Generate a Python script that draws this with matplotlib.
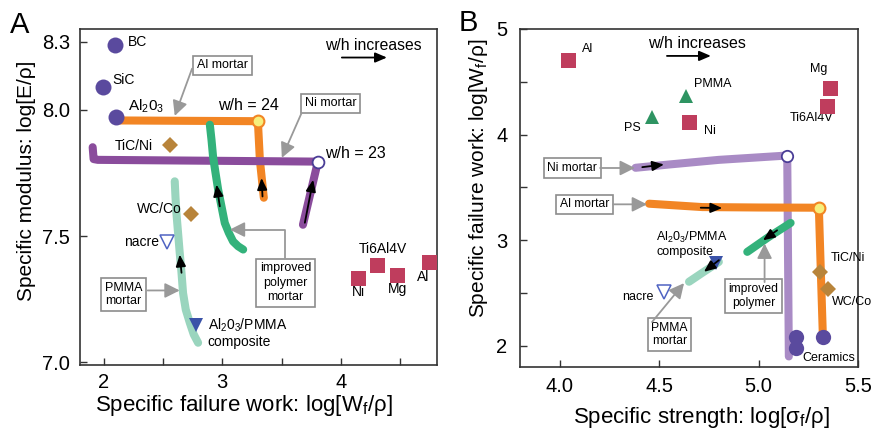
import matplotlib
matplotlib.use("Agg")
import matplotlib.pyplot as plt
from matplotlib.ticker import FixedLocator

plt.rcParams['font.family'] = ['Liberation Sans', 'DejaVu Sans']
plt.rcParams['mathtext.fontset'] = 'custom'
plt.rcParams['mathtext.rm'] = 'Liberation Sans'
plt.rcParams['mathtext.it'] = 'Liberation Sans'
plt.rcParams['mathtext.default'] = 'regular'

# ---------------- Panel A data ----------------
a_ceramic_names = ['BC', 'SiC', 'Al$_2$0$_3$']
a_ceramic_x = [2.093, 1.99, 2.10]
a_ceramic_y = [8.257, 8.092, 7.971]
a_cermet_names = ['TiC/Ni', 'WC/Co']
a_cermet_x = [2.563, 2.734]
a_cermet_y = [7.859, 7.588]
a_metal_names = ['Ni', 'Ti6Al4V', 'Mg', 'Al']
a_metal_x = [4.146, 4.307, 4.475, 4.745]
a_metal_y = [7.335, 7.387, 7.348, 7.398]
a_nacre = (2.534, 7.476)
a_composite = (2.782, 7.150)
a_al_mortar_x = [2.10, 3.30, 3.317, 3.35]
a_al_mortar_y = [7.958, 7.955, 7.80, 7.652]
a_ni_mortar_x = [1.907, 1.915, 1.95, 3.806, 3.68]
a_ni_mortar_y = [7.852, 7.805, 7.802, 7.795, 7.545]
a_poly_x = [2.895, 2.909, 2.922, 2.943, 2.965, 2.993, 3.021, 3.055, 3.091, 3.133, 3.176]
a_poly_y = [7.941, 7.881, 7.815, 7.750, 7.684, 7.618, 7.552, 7.513, 7.479, 7.460, 7.447]
a_pmma_x = [2.599, 2.605, 2.613, 2.627, 2.641, 2.656, 2.669, 2.692, 2.726, 2.759, 2.796]
a_pmma_y = [7.717, 7.657, 7.592, 7.513, 7.434, 7.355, 7.275, 7.209, 7.157, 7.111, 7.078]
a_xticks = [2, 3, 4]
a_xminor = [2.5, 3.5, 4.5]
a_yticks = [7.0, 7.5, 8.0, 8.27]
a_yticklabels = ['7.0', '7.5', '8.0', '8.3']

# ---------------- Panel B data ----------------
b_metal_names = ['Al', 'Ni', 'Mg', 'Ti6Al4V']
b_metal_x = [4.043, 4.65, 5.357, 5.345]
b_metal_y = [4.705, 4.116, 4.44, 4.274]
b_polymer_names = ['PS', 'PMMA']
b_polymer_x = [4.462, 4.636]
b_polymer_y = [4.163, 4.368]
b_cermet_names = ['TiC/Ni', 'WC/Co']
b_cermet_x = [5.311, 5.35]
b_cermet_y = [2.701, 2.535]
b_ceramic_x = [5.186, 5.186, 5.323]
b_ceramic_y = [2.088, 1.978, 2.088]
b_nacre = (4.524, 2.512)
b_composite = (4.787, 2.780)
b_ni_mortar_x = [4.381, 4.549, 4.80, 5.144, 5.148, 5.152]
b_ni_mortar_y = [3.686, 3.717, 3.761, 3.802, 2.85, 1.90]
b_al_mortar_x = [4.449, 4.717, 5.0, 5.303, 5.313, 5.323]
b_al_mortar_y = [3.346, 3.314, 3.310, 3.308, 2.70, 2.104]
b_poly_x = [4.943, 5.05, 5.161]
b_poly_y = [2.890, 3.03, 3.164]
b_pmma_x = [4.65, 4.717, 4.80]
b_pmma_y = [2.607, 2.692, 2.795]
b_xticks = [4.0, 4.5, 5.0, 5.5]
b_yticks = [2, 3, 4, 5]
b_yminor = [2.5, 3.5, 4.5]

# ---------------- colours ----------------
C_CERAMIC = '#5a4a9e'
C_CERMET = '#b8843a'
C_METAL = '#bf3d5d'
C_POLY_TRI = '#2e9462'
C_COMP = '#3a52a8'
C_NACRE = '#4f63c2'
C_ORANGE = '#f28524'
C_PURPLE = '#8a4c9c'
C_LAV = '#a98bc5'
C_GREEN = '#33b27b'
C_TEAL = '#9ad5be'
C_YELLOW = '#f6ef7c'
C_GRAY = '#999999'

fig = plt.figure(figsize=(8.75, 4.3), dpi=100)
axA = fig.add_axes([0.0914, 0.1512, 0.4080, 0.7814])
axB = fig.add_axes([0.5943, 0.1465, 0.3863, 0.7861])

LW = 5.8
box_kw = dict(boxstyle='square,pad=0.3', fc='white', ec='#8c8c8c', lw=1.2)
gray_arrow = dict(arrowstyle='-|>,head_length=0.9,head_width=0.45', color=C_GRAY,
                  lw=1.3, shrinkA=0, shrinkB=0, mutation_scale=10)
black_arrow = dict(arrowstyle='-|>,head_length=0.7,head_width=0.3', color='black',
                   lw=1.3, shrinkA=0, shrinkB=0, mutation_scale=10)


def style_axis(ax):
    for s in ax.spines.values():
        s.set_color('#333333')
        s.set_linewidth(1.2)
    ax.tick_params(which='both', direction='in', length=5, width=1.0, color='#333333',
                   labelsize=14.5)


# ================= Panel A =================
ax = axA
ax.plot(a_al_mortar_x, a_al_mortar_y, color=C_ORANGE, lw=LW, solid_capstyle='round',
        solid_joinstyle='round', zorder=2)
ax.plot(a_ni_mortar_x, a_ni_mortar_y, color=C_PURPLE, lw=LW, solid_capstyle='round',
        solid_joinstyle='round', zorder=3)
ax.plot(a_pmma_x, a_pmma_y, color=C_TEAL, lw=LW, solid_capstyle='round',
        solid_joinstyle='round', zorder=2)
ax.plot(a_poly_x, a_poly_y, color=C_GREEN, lw=LW, solid_capstyle='round',
        solid_joinstyle='round', zorder=4)
ax.plot([a_al_mortar_x[1]], [a_al_mortar_y[1]], 'o', ms=8.5, mfc=C_YELLOW, mec=C_ORANGE,
        mew=1.5, zorder=6)
ax.plot([a_ni_mortar_x[3]], [a_ni_mortar_y[3]], 'o', ms=8.5, mfc='white', mec='#4a3d96',
        mew=1.3, zorder=6)

ax.plot(a_ceramic_x, a_ceramic_y, 'o', ms=11.5, color=C_CERAMIC, mew=0, zorder=5)
ax.plot(a_cermet_x, a_cermet_y, 'D', ms=8.3, color=C_CERMET, mew=0, zorder=5)
ax.plot(a_metal_x, a_metal_y, 's', ms=10.8, color=C_METAL, mew=0, zorder=5)
ax.plot([a_nacre[0]], [a_nacre[1]], 'v', ms=9.5, mfc='white', mec=C_NACRE, mew=1.1, zorder=5)
ax.plot([a_composite[0]], [a_composite[1]], 'v', ms=9.5, color=C_COMP, mew=0, zorder=5)

fsA = 10
ax.text(2.203, 8.269, a_ceramic_names[0], fontsize=fsA, va='center')
ax.text(2.076, 8.119, a_ceramic_names[1], fontsize=fsA, va='center')
ax.text(2.203, 8.012, a_ceramic_names[2], fontsize=fsA + 1, va='center')
ax.text(2.414, 7.858, a_cermet_names[0], fontsize=fsA, va='center', ha='right')
ax.text(2.658, 7.609, a_cermet_names[1], fontsize=fsA, va='center', ha='right')
ax.text(2.464, 7.478, 'nacre', fontsize=fsA, va='center', ha='right')
ax.text(2.878, 7.117, 'Al$_2$0$_3$/PMMA\ncomposite', fontsize=fsA, va='center', ha='left',
        linespacing=1.15)
ax.text(4.152, 7.277, a_metal_names[0], fontsize=fsA, va='center', ha='center')
ax.text(4.354, 7.451, a_metal_names[1], fontsize=fsA, va='center', ha='center')
ax.text(4.473, 7.292, a_metal_names[2], fontsize=fsA, va='center', ha='center')
ax.text(4.692, 7.340, a_metal_names[3], fontsize=fsA, va='center', ha='center')

ax.text(3.865, 8.253, 'w/h increases', fontsize=11.3, va='center')
ax.annotate('', xy=(4.388, 8.207), xytext=(4.008, 8.207), arrowprops=black_arrow)
ax.text(2.962, 8.016, 'w/h = 24', fontsize=11.5, va='center')
ax.text(3.865, 7.826, 'w/h = 23', fontsize=11.5, va='center')

# black arrows along curves
ax.annotate('', xy=(3.331, 7.730), xytext=(3.339, 7.657), arrowprops=black_arrow, zorder=7)
ax.annotate('', xy=(3.766, 7.723), xytext=(3.696, 7.553), arrowprops=black_arrow, zorder=7)
ax.annotate('', xy=(2.951, 7.704), xytext=(2.979, 7.618), arrowprops=black_arrow, zorder=7)
ax.annotate('', xy=(2.641, 7.427), xytext=(2.656, 7.355), arrowprops=black_arrow, zorder=7)

# boxed labels with gray arrows
fsBox = 9
ax.text(3.0, 8.176, 'Al mortar', fontsize=fsBox, ha='center', va='center', bbox=box_kw, zorder=8)
ax.annotate('', xy=(2.599, 7.976), xytext=(2.745, 8.163), arrowprops=gray_arrow, zorder=8)
ax.text(3.911, 8.026, 'Ni mortar', fontsize=fsBox, ha='center', va='center', bbox=box_kw, zorder=8)
ax.annotate('', xy=(3.502, 7.810), xytext=(3.668, 7.987), arrowprops=gray_arrow, zorder=8)
ax.text(2.169, 7.269, 'PMMA\nmortar', fontsize=fsBox, ha='center', va='center', bbox=box_kw,
        linespacing=1.2, zorder=8)
ax.annotate('', xy=(2.641, 7.285), xytext=(2.371, 7.285), arrowprops=gray_arrow, zorder=8)
ax.text(3.532, 7.316, 'improved\npolymer\nmortar', fontsize=fsBox, ha='center', va='center',
        bbox=box_kw, linespacing=1.25, zorder=8)
arr_elbow = dict(gray_arrow)
arr_elbow['connectionstyle'] = 'angle,angleA=90,angleB=0,rad=0'
ax.annotate('', xy=(3.063, 7.526), xytext=(3.527, 7.415), arrowprops=arr_elbow, zorder=8)

ax.set_xlim(1.80, 4.81)
ax.set_ylim(6.99, 8.32)
ax.xaxis.set_major_locator(FixedLocator(a_xticks))
ax.xaxis.set_minor_locator(FixedLocator(a_xminor))
ax.set_yticks(a_yticks)
ax.set_yticklabels(a_yticklabels)
style_axis(ax)
ax.tick_params(axis='y', pad=7)
ax.tick_params(axis='x', pad=6)
ax.set_xlabel('Specific failure work: log[W$_f$/ρ]', fontsize=16)
ax.xaxis.set_label_coords(0.458, -0.083)
ax.set_ylabel('Specific modulus: log[E/ρ]', fontsize=15)
ax.yaxis.set_label_coords(-0.124, 0.548)
fig.text(10 / 875, 1 - 25 / 430, 'A', fontsize=21, va='center', ha='left')

# ================= Panel B =================
ax = axB
ax.plot(b_ni_mortar_x, b_ni_mortar_y, color=C_LAV, lw=LW, solid_capstyle='round',
        solid_joinstyle='round', zorder=2)
ax.plot(b_al_mortar_x, b_al_mortar_y, color=C_ORANGE, lw=LW, solid_capstyle='round',
        solid_joinstyle='round', zorder=3)
ax.plot(b_poly_x, b_poly_y, color=C_GREEN, lw=LW, solid_capstyle='round', zorder=4)
ax.plot(b_pmma_x, b_pmma_y, color=C_TEAL, lw=LW, solid_capstyle='round', zorder=4)
ax.plot([b_ni_mortar_x[3]], [b_ni_mortar_y[3]], 'o', ms=8.2, mfc='white', mec='#4a3d96',
        mew=1.3, zorder=6)
ax.plot([b_al_mortar_x[3]], [b_al_mortar_y[3]], 'o', ms=8.5, mfc=C_YELLOW, mec=C_ORANGE,
        mew=1.5, zorder=6)

ax.plot(b_metal_x, b_metal_y, 's', ms=10.8, color=C_METAL, mew=0, zorder=5)
ax.plot(b_polymer_x, b_polymer_y, '^', ms=9.5, color=C_POLY_TRI, mew=0, zorder=5)
ax.plot(b_cermet_x, b_cermet_y, 'D', ms=8.0, color=C_CERMET, mew=0, zorder=5)
ax.plot(b_ceramic_x, b_ceramic_y, 'o', ms=11, color=C_CERAMIC, mew=0, zorder=5)
ax.plot([b_nacre[0]], [b_nacre[1]], 'v', ms=9.5, mfc='white', mec=C_NACRE, mew=1.1, zorder=5)
ax.plot([b_composite[0]], [b_composite[1]], 'v', ms=9.5, color=C_COMP, mew=0, zorder=5)

fsB = 9
ax.text(4.112, 4.811, b_metal_names[0], fontsize=fsB, va='center')
ax.text(4.725, 4.038, b_metal_names[1], fontsize=fsB, va='center')
ax.text(5.303, 4.623, b_metal_names[2], fontsize=fsB, va='center', ha='center')
ax.text(5.268, 4.160, b_metal_names[3], fontsize=fsB, va='center', ha='center')
ax.text(4.409, 4.066, b_polymer_names[0], fontsize=fsB, va='center', ha='right')
ax.text(4.675, 4.481, b_polymer_names[1], fontsize=fsB, va='center')
ax.text(5.363, 2.830, b_cermet_names[0], fontsize=fsB, va='center')
ax.text(5.368, 2.415, b_cermet_names[1], fontsize=fsB, va='center')
ax.text(5.218, 1.887, 'Ceramics', fontsize=fsB, va='center')
ax.text(4.474, 2.462, 'nacre', fontsize=fsB, va='center', ha='right')
ax.text(4.484, 2.967, 'Al$_2$0$_3$/PMMA\ncomposite', fontsize=fsB, va='center', ha='left',
        linespacing=1.1)

ax.text(4.444, 4.858, 'w/h increases', fontsize=11.5, va='center')
ax.annotate('', xy=(4.760, 4.745), xytext=(4.539, 4.745), arrowprops=black_arrow)

ax.annotate('', xy=(4.524, 3.717), xytext=(4.415, 3.692), arrowprops=black_arrow, zorder=7)
ax.annotate('', xy=(4.817, 3.305), xytext=(4.709, 3.308), arrowprops=black_arrow, zorder=7)
ax.annotate('', xy=(5.022, 3.000), xytext=(5.093, 3.094), arrowprops=black_arrow, zorder=7)
ax.annotate('', xy=(4.725, 2.701), xytext=(4.800, 2.811), arrowprops=black_arrow, zorder=7)

fsBoxB = 8.7
ax.text(4.062, 3.684, 'Ni mortar', fontsize=fsBoxB, ha='center', va='center', bbox=box_kw, zorder=8)
ax.annotate('', xy=(4.378, 3.684), xytext=(4.203, 3.684), arrowprops=gray_arrow, zorder=8)
ax.text(4.125, 3.340, 'Al mortar', fontsize=fsBoxB, ha='center', va='center', bbox=box_kw, zorder=8)
ax.annotate('', xy=(4.439, 3.340), xytext=(4.268, 3.340), arrowprops=gray_arrow, zorder=8)
ax.text(4.552, 2.108, 'PMMA\nmortar', fontsize=fsBoxB, ha='center', va='center', bbox=box_kw,
        linespacing=1.2, zorder=8)
ax.annotate('', xy=(4.625, 2.594), xytext=(4.464, 2.226), arrowprops=gray_arrow, zorder=8)
ax.text(4.974, 2.472, 'improved\npolymer', fontsize=fsBoxB, ha='center', va='center', bbox=box_kw,
        linespacing=1.2, zorder=8)
ax.annotate('', xy=(5.030, 2.969), xytext=(5.030, 2.604), arrowprops=gray_arrow, zorder=8)

ax.set_xlim(3.80, 5.5)
ax.set_ylim(1.80, 5.0)
ax.set_xticks(b_xticks)
ax.set_xticklabels(['4.0', '4.5', '5.0', '5.5'])
ax.yaxis.set_major_locator(FixedLocator(b_yticks))
ax.yaxis.set_minor_locator(FixedLocator(b_yminor))
ax.set_yticklabels(['2', '3', '4', '5'])
style_axis(ax)
ax.tick_params(axis='y', pad=9)
ax.tick_params(axis='x', pad=7)
ax.set_xlabel('Specific strength: log[σ$_f$/ρ]', fontsize=16)
ax.xaxis.set_label_coords(0.537, -0.112)
ax.set_ylabel('Specific failure work: log[W$_f$/ρ]', fontsize=15)
ax.yaxis.set_label_coords(-0.088, 0.559)
fig.text(459 / 875, 1 - 23 / 430, 'B', fontsize=21, va='center', ha='left')

fig.savefig('out.png', dpi=100)
